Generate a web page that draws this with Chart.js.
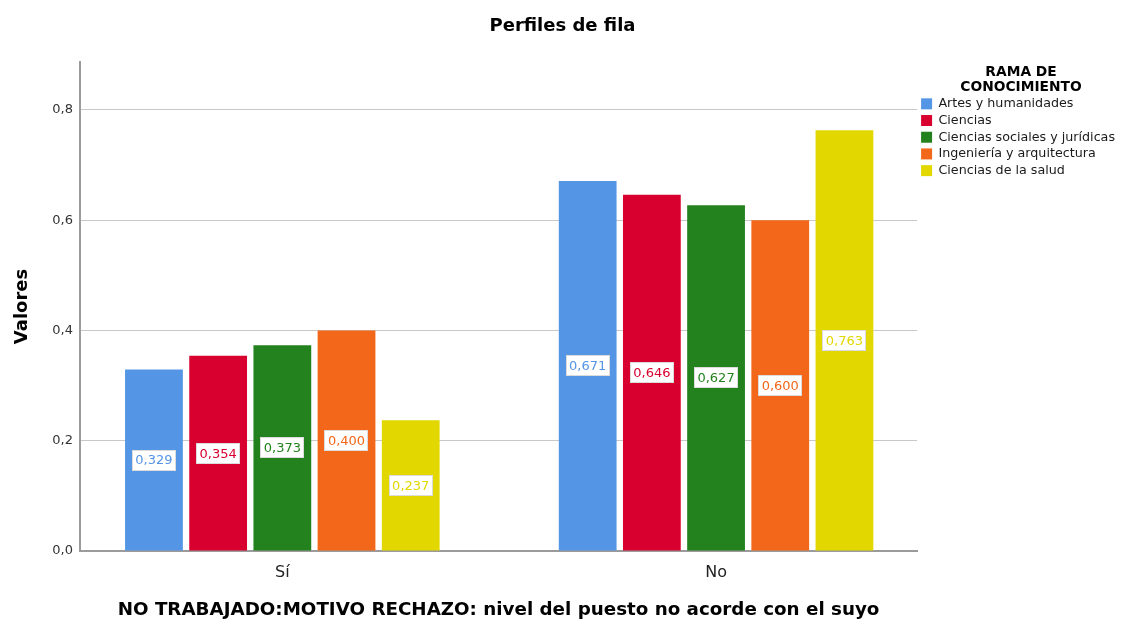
<!DOCTYPE html>
<html>
<head>
<meta charset="utf-8">
<script src="https://cdn.jsdelivr.net/npm/chart.js@4.4.1/dist/chart.umd.min.js"></script>
<style>
  html, body { margin: 0; padding: 0; background: #ffffff; }
  #wrap { width: 1125px; height: 623px; position: relative; }
</style>
</head>
<body>
<div id="wrap"><canvas id="c" width="1125" height="623"></canvas></div>
<script>
const categories = ['Sí', 'No'];
const seriesNames = ['Artes y humanidades', 'Ciencias', 'Ciencias sociales y jurídicas', 'Ingeniería y arquitectura', 'Ciencias de la salud'];
const artes = [0.329, 0.671];
const ciencias = [0.354, 0.646];
const sociales = [0.373, 0.627];
const ingenieria = [0.400, 0.600];
const salud = [0.237, 0.763];
const seriesColors = ['#5495e6', '#d8002e', '#23821e', '#f26719', '#e2d800'];
const yTicks = [0, 0.2, 0.4, 0.6, 0.8];

const seriesValues = [artes, ciencias, sociales, ingenieria, salud];
const FONT = "'DejaVu Sans', sans-serif";

const datasets = seriesNames.map((name, i) => ({
  label: name,
  data: seriesValues[i].map((v, j) => ({ x: j, y: v })),
  backgroundColor: seriesColors[i],
  borderWidth: 0,
  categoryPercentage: 0.74,
  barPercentage: 0.9
}));

const valueLabels = {
  id: 'valueLabels',
  afterDatasetsDraw(chart) {
    const ctx = chart.ctx;
    ctx.save();
    ctx.font = '13px ' + FONT;
    ctx.textAlign = 'center';
    ctx.textBaseline = 'middle';
    chart.data.datasets.forEach((ds, di) => {
      const meta = chart.getDatasetMeta(di);
      meta.data.forEach((bar, j) => {
        const v = ds.data[j].y;
        const txt = v.toFixed(3).replace('.', ',');
        const cx = bar.x;
        const cy = (bar.y + bar.base) / 2;
        const w = ctx.measureText(txt).width + 7;
        const h = 21;
        ctx.fillStyle = '#ffffff';
        ctx.fillRect(Math.round(cx - w / 2), Math.round(cy - h / 2), Math.round(w), h);
        ctx.strokeStyle = 'rgba(210,210,210,0.8)';
        ctx.lineWidth = 1;
        ctx.strokeRect(Math.round(cx - w / 2) + 0.5, Math.round(cy - h / 2) + 0.5, Math.round(w) - 1, h - 1);
        ctx.fillStyle = ds.backgroundColor;
        ctx.fillText(txt, cx, cy + 1);
      });
    });
    ctx.restore();
  }
};

new Chart(document.getElementById('c'), {
  type: 'bar',
  data: { datasets },
  options: {
    responsive: false,
    animation: false,
    layout: { padding: { left: 0, top: 0, bottom: 0, right: 0 } },
    plugins: {
      tooltip: { enabled: false },
      title: {
        display: true,
        text: 'Perfiles de fila',
        color: '#000000',
        font: { family: FONT, size: 18, weight: 'bold' },
        padding: { top: 16, bottom: 24.4 }
      },
      legend: {
        display: true,
        position: 'right',
        align: 'start',
        fullSize: false,
        title: {
          display: true,
          text: ['RAMA DE', 'CONOCIMIENTO'],
          color: '#000000',
          font: { family: FONT, size: 13.8, weight: 'bold', lineHeight: 1.1 },
          padding: { top: 3.1, bottom: 13.2 }
        },
        labels: {
          boxWidth: 11,
          boxHeight: 11,
          padding: 4,
          color: '#1a1a1a',
          font: { family: FONT, size: 12.7 }
        }
      }
    },
    scales: {
      x: {
        type: 'linear',
        min: -0.4665,
        max: 1.4635,
        offset: false,
        afterBuildTicks(scale) {
          scale.ticks = categories.map((c, i) => ({ value: i }));
        },
        afterFit(scale) { scale.height = 72; },
        grid: { display: false, drawTicks: false },
        border: { display: true, color: '#9b9b9b', width: 2 },
        ticks: {
          padding: 12,
          color: '#222222',
          font: { family: FONT, size: 16 },
          callback: (v) => categories[v]
        },
        title: {
          display: true,
          text: 'NO TRABAJADO:MOTIVO RECHAZO: nivel del puesto no acorde con el suyo',
          color: '#000000',
          font: { family: FONT, size: 18.3, weight: 'bold' },
          padding: { top: 0, bottom: 2.0 }
        }
      },
      y: {
        min: 0,
        max: 0.887,
        afterBuildTicks(scale) {
          scale.ticks = yTicks.map(v => ({ value: v }));
        },
        afterFit(scale) { scale.width = 80; },
        grid: { color: '#c8c8c8', lineWidth: 1, drawTicks: false },
        border: { display: true, color: '#9b9b9b', width: 2 },
        ticks: {
          padding: 7,
          color: '#333333',
          font: { family: FONT, size: 13 },
          callback: (v) => Number(v).toFixed(1).replace('.', ',')
        },
        title: {
          display: true,
          text: 'Valores',
          color: '#000000',
          font: { family: FONT, size: 18, weight: 'bold' },
          padding: { top: 11.2, bottom: 0 }
        }
      }
    }
  },
  plugins: [valueLabels]
});
</script>
</body>
</html>
